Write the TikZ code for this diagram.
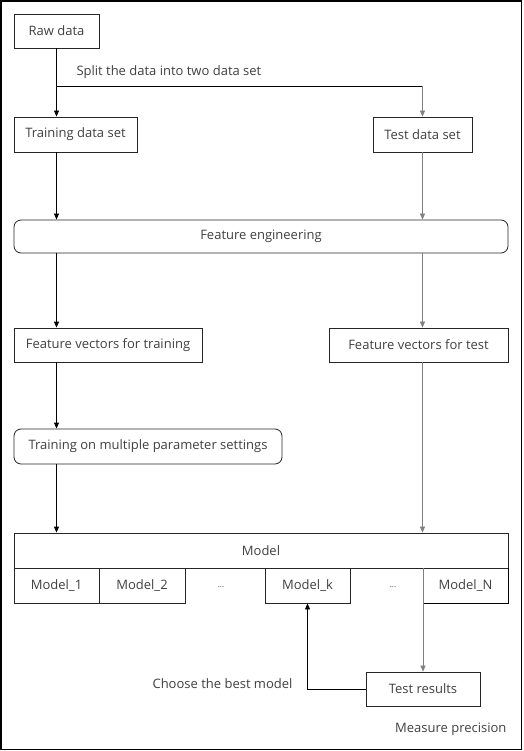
\documentclass[tikz,border=0pt]{standalone}
\usepackage{fontspec}
\setmainfont{Open Sans}
\usetikzlibrary{arrows.meta}
\begin{document}
\begin{tikzpicture}[x=1pt,y=-1pt,
  font=\fontsize{13}{15}\selectfont, text=black!75,
  box/.style={draw=black!85, line width=0.8pt, inner sep=0pt},
  rbox/.style={box, rounded corners=7pt},
  arr/.style={-{Triangle[length=6pt,width=5pt]}, line width=0.8pt, draw=black},
  garr/.style={-{Triangle[length=6pt,width=5pt]}, line width=0.6pt, draw=black!50},
  gline/.style={line width=0.6pt, draw=black!50},
  bline/.style={line width=0.8pt, draw=black}]
\useasboundingbox (0,0) rectangle (523,751);
\draw[line width=1.2pt] (1,1) rectangle (521.5,749.5);
% nodes
\node[box, minimum width=85pt, minimum height=34pt] (raw) at (56.5,31) {Raw data};
\node[box, minimum width=123pt, minimum height=35pt] (train) at (75.5,134.5) {Training data set};
\node[box, minimum width=99pt, minimum height=35pt] (test) at (422.5,134.5) {Test data set};
\node[rbox, minimum width=494pt, minimum height=33pt] (fe) at (261,236.5) {Feature engineering};
\node[box, minimum width=188pt, minimum height=34pt] (fvtrain) at (108,345) {Feature vectors for training};
\node[box, minimum width=179pt, minimum height=34pt] (fvtest) at (418.5,345) {Feature vectors for test};
\node[rbox, minimum width=268pt, minimum height=35pt] (multi) at (148,446.5) {Training on multiple parameter settings};
\node[box, minimum width=494pt, minimum height=35pt] (model) at (261,550.5) {Model};
\node[box, minimum width=85pt, minimum height=35pt] (m1) at (56.5,585.5) {Model\_1};
\node[box, minimum width=86pt, minimum height=35pt] (m2) at (142,585.5) {Model\_2};
\node (d1) at (221,587) {\fontsize{8}{9}\selectfont ...};
\node[box, minimum width=85pt, minimum height=35pt] (mk) at (307.5,585.5) {Model\_k};
\node (d2) at (393,587) {\fontsize{8}{9}\selectfont ...};
\node[inner sep=0pt, minimum width=85pt, minimum height=35pt] (mn) at (465.5,585.5) {Model\_N};
\draw[bline] (mn.north east) -- (mn.south east) -- (mn.south west);
\node[box, minimum width=114pt, minimum height=34pt] (tres) at (423,689) {Test results};
% labels
\coordinate (sp) at (57,86);
\node[anchor=west] (lsplit) at (73,72) {Split the data into two data set};
\node[anchor=east] (lchoose) at (296,684) {Choose the best model};
\node[anchor=east] (lmeasure) at (510,729) {Measure precision};
% connectors
\draw[arr] (raw.south) -- (raw.south |- train.north);
\draw[bline] (raw.south |- sp) -- (test.north |- sp);
\draw[garr] (test.north |- sp) -- (test.north);
\draw[arr] (raw.south |- train.south) -- (raw.south |- fe.north);
\draw[garr] (test.south) -- (test.south |- fe.north);
\draw[arr] (raw.south |- fe.south) -- (raw.south |- fvtrain.north);
\draw[garr] (test.south |- fe.south) -- (test.south |- fvtrain.north);
\draw[arr] (raw.south |- fvtrain.south) -- (raw.south |- multi.north);
\draw[garr] (test.south |- fvtest.south) -- (test.south |- model.north);
\draw[arr] (raw.south |- multi.south) -- (raw.south |- model.north);
\draw[garr] (tres.north |- model.south) -- (tres.north);
\draw[arr] (tres.west) -| (mk.south);
\end{tikzpicture}
\end{document}
